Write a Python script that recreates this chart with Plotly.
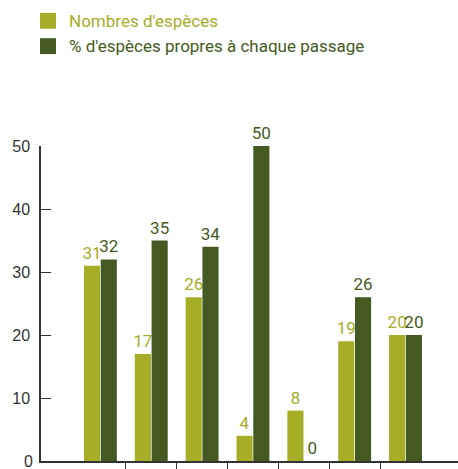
import plotly.graph_objects as go

# Passages (category labels sit below the visible area)
passages = [0, 1, 2, 3, 4, 5, 6]
nb_especes = [31, 17, 26, 4, 8, 19, 20]
pct_propres = [32, 35, 34, 50, 0, 26, 20]
y_ticks = [0, 10, 20, 30, 40, 50]

series_names = ["Nombres d'espèces", "% d'espèces propres à chaque passage"]
light = "#A6AD27"
dark = "#455A22"
axis_col = "#333333"
label_font = "Roboto, sans-serif"
tick_font = dict(size=16, color=axis_col, family="Liberation Sans, Arial, sans-serif")

W, H = 458, 469
ML, MR, MT, MB = 41, 0, 146, 6
PW, PH = W - ML - MR, H - MT - MB


def px_x(x):
    return (x - ML) / PW


def px_y(y):
    return (H - MB - y) / PH


fig = go.Figure()
for vals, col, name in [(nb_especes, light, series_names[0]),
                        (pct_propres, dark, series_names[1])]:
    fig.add_trace(go.Bar(
        x=passages, y=vals, name=name,
        marker=dict(color=col, line=dict(width=0)),
        text=[str(v) for v in vals], textposition="outside",
        textfont=dict(color=col, size=17, family=label_font),
        cliponaxis=False, showlegend=False,
    ))

# Legend drawn as square swatches with labels
for i, (name, col) in enumerate(zip(series_names, [light, dark])):
    top = 12 + 25.5 * i
    fig.add_shape(type="rect", xref="paper", yref="paper",
                  x0=px_x(40), x1=px_x(56), y0=px_y(top + 16), y1=px_y(top),
                  fillcolor=col, line=dict(width=0))
    fig.add_annotation(xref="paper", yref="paper", x=px_x(67), y=px_y(top + 8),
                       text=name, showarrow=False, xanchor="left", yanchor="middle",
                       font=dict(size=17, color=col, family=label_font))

# The bottom tick label runs off the page edge, so it is placed explicitly
fig.add_annotation(xref="paper", yref="y", x=px_x(35), y=y_ticks[0],
                   text=str(y_ticks[0]), showarrow=False, xanchor="right",
                   yanchor="middle", font=tick_font)

fig.update_layout(
    width=W, height=H,
    margin=dict(l=ML, r=MR, t=MT, b=MB, pad=0),
    paper_bgcolor="white", plot_bgcolor="white",
    barmode="group", bargap=0.34, bargroupgap=0.04,
    xaxis=dict(range=[-1.168, 7.032], showgrid=False, zeroline=False,
               showline=True, linecolor=axis_col, linewidth=1.5,
               tickmode="array", tickvals=[0.5, 1.5, 2.5, 3.5, 4.5, 5.5],
               ticks="outside", ticklen=8, tickwidth=1.3, tickcolor=axis_col,
               showticklabels=False),
    yaxis=dict(range=[0, 50], showgrid=False, zeroline=False,
               showline=True, linecolor=axis_col, linewidth=1.5,
               tickmode="array", tickvals=y_ticks[1:],
               ticks="inside", ticklen=10, tickwidth=1.3, tickcolor=axis_col,
               tickfont=tick_font, ticklabelstandoff=6),
    font=dict(family=label_font),
)
fig.update_traces(constraintext="none")

fig.write_html("out.html")
